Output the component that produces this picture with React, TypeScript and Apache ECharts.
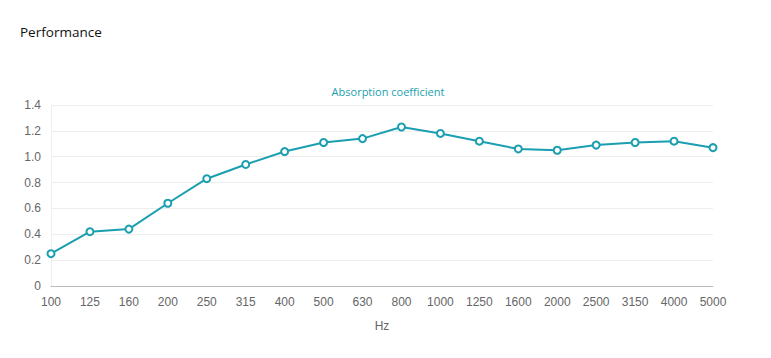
import React, { useEffect, useRef } from "react";
import * as echarts from "echarts";

const categories = ["100", "125", "160", "200", "250", "315", "400", "500", "630", "800", "1000", "1250", "1600", "2000", "2500", "3150", "4000", "5000"];
const absorption = [0.25, 0.42, 0.44, 0.64, 0.83, 0.94, 1.04, 1.11, 1.14, 1.23, 1.18, 1.12, 1.06, 1.05, 1.09, 1.11, 1.12, 1.07];
const seriesName = "Absorption coefficient";
const titleText = "Performance";
const xAxisName = "Hz";

export default function App() {
  const ref = useRef<HTMLDivElement>(null);
  useEffect(() => {
    if (!ref.current) return;
    const chart = echarts.init(ref.current, undefined, { renderer: "svg" });
    chart.setOption({
      animation: false,
      title: {
        text: titleText,
        left: 7,
        top: 12,
        textStyle: { fontFamily: "Open Sans", fontSize: 13.5, fontWeight: "normal", color: "#111" },
      },
      legend: {
        data: [{ name: seriesName, icon: "none" }],
        top: 71,
        left: "center",
        itemWidth: 0,
        itemGap: 0,
        textStyle: { color: "#1a9fb0", fontFamily: "Open Sans", fontSize: 11 },
        selectedMode: false,
      },
      grid: { left: 43, right: 50, top: 97, bottom: 64 },
      xAxis: {
        type: "category",
        data: categories,
        boundaryGap: false,
        name: xAxisName,
        nameLocation: "middle",
        nameGap: 34,
        nameTextStyle: { color: "#666", fontFamily: "Liberation Sans", fontSize: 12 },
        axisLine: { lineStyle: { color: "#bbb" } },
        axisTick: { show: false },
        axisLabel: { color: "#666", fontFamily: "Liberation Sans", fontSize: 12, margin: 10, interval: 0 },
        splitLine: { show: false },
      },
      yAxis: {
        type: "value",
        min: 0,
        max: 1.4,
        interval: 0.2,
        axisLine: { show: true, lineStyle: { color: "#eee" } },
        axisTick: { show: false },
        axisLabel: {
          color: "#666",
          fontFamily: "Liberation Sans",
          fontSize: 12,
          margin: 10,
          formatter: (v: number) => (v === 0 ? "0" : v.toFixed(1)),
        },
        splitLine: { lineStyle: { color: "#eee" } },
      },
      series: [
        {
          name: seriesName,
          type: "line",
          data: absorption,
          symbol: "emptyCircle",
          symbolSize: 7,
          lineStyle: { color: "#1a9fb0", width: 2 },
          itemStyle: { color: "#1a9fb0", borderWidth: 2, borderColor: "#1a9fb0" },
        },
      ],
    });
    return () => chart.dispose();
  }, []);
  return <div ref={ref} style={{ width: 755, height: 342 }} />;
}
